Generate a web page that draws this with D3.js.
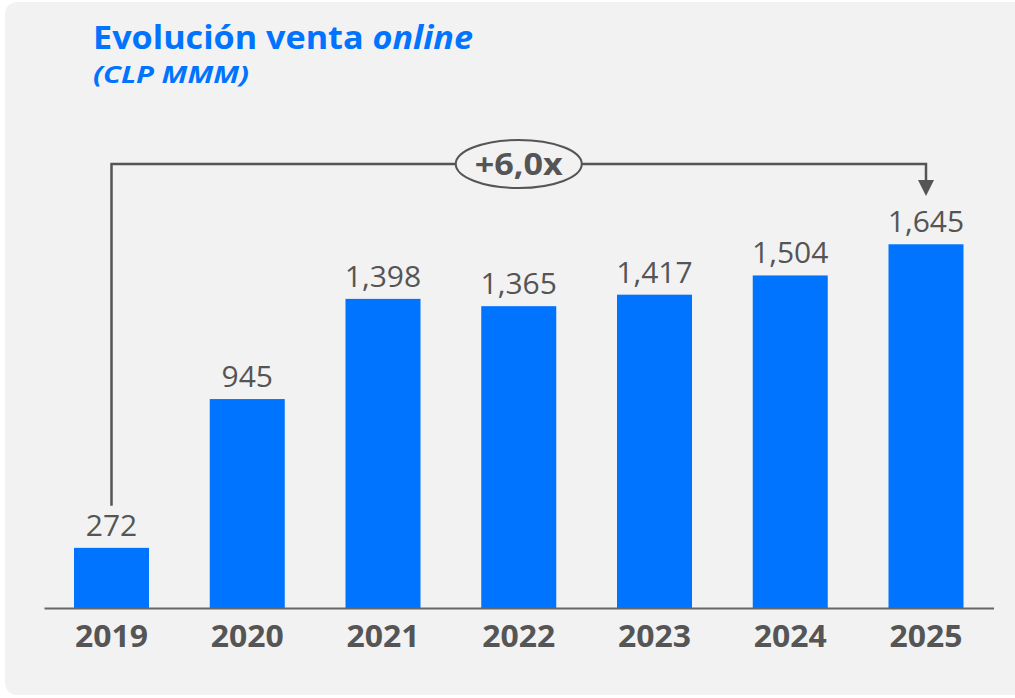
<!DOCTYPE html>
<html>
<head>
<meta charset="utf-8">
<script src="https://cdn.jsdelivr.net/npm/d3@7"></script>
<style>
  body { margin: 0; background: #ffffff; }
  svg { display: block; }
</style>
</head>
<body>
<script>
// chart data
const years = ["2019", "2020", "2021", "2022", "2023", "2024", "2025"];
const sales = [272, 945, 1398, 1365, 1417, 1504, 1645];
const growthLabel = "+6,0x";

const width = 1015,
  height = 698;

const blue = "#0073ff",
  grey = "#555555",
  font = "Open Sans, DejaVu Sans, sans-serif";

const svg = d3.select("body").append("svg")
  .attr("width", width)
  .attr("height", height);

// panel background
svg.append("rect")
  .attr("x", 5).attr("y", 2)
  .attr("width", width + 10).attr("height", 693)
  .attr("rx", 12)
  .attr("fill", "#f2f2f2");

// scales
const x = d3.scaleBand()
  .domain(years)
  .range([44, 993.5])
  .paddingInner(0.4475)
  .paddingOuter(0.221);

const y = d3.scaleLinear()
  .domain([0, 1800])
  .range([608, 210]);

// title
const title = svg.append("text")
  .attr("x", 93).attr("y", 49)
  .attr("fill", blue)
  .style("font-family", font)
  .style("font-weight", 700)
  .style("font-size", "32px")
  .attr("textLength", 380)
  .attr("lengthAdjust", "spacingAndGlyphs");
title.append("tspan").text("Evolución venta ");
title.append("tspan").style("font-style", "italic").text("online");

svg.append("text")
  .attr("x", 93).attr("y", 83)
  .attr("fill", blue)
  .style("font-family", font)
  .style("font-weight", 700)
  .style("font-style", "italic")
  .style("font-size", "24px")
  .attr("textLength", 156)
  .attr("lengthAdjust", "spacingAndGlyphs")
  .text("(CLP MMM)");

// bars
svg.selectAll(".bar")
  .data(years)
  .enter()
  .append("rect")
  .attr("class", "bar")
  .attr("x", d => x(d))
  .attr("y", (d, i) => y(sales[i]))
  .attr("width", x.bandwidth())
  .attr("height", (d, i) => y(0) - y(sales[i]))
  .attr("fill", blue);

// value labels
svg.selectAll(".val")
  .data(years)
  .enter()
  .append("text")
  .attr("class", "val")
  .attr("x", d => x(d) + x.bandwidth() / 2)
  .attr("y", (d, i) => y(sales[i]) - 12)
  .attr("text-anchor", "middle")
  .attr("fill", grey)
  .style("font-family", font)
  .style("font-size", "30px")
  .text((d, i) => d3.format(",")(sales[i]));

// x axis
const xAxis = svg.append("g")
  .attr("transform", "translate(0," + y(0) + ")")
  .call(d3.axisBottom(x).tickSize(0).tickPadding(17));
xAxis.select(".domain")
  .attr("stroke", "#666666")
  .attr("stroke-width", 2);
xAxis.selectAll("text")
  .attr("fill", grey)
  .attr("dy", "0.71em")
  .attr("textLength", 73)
  .attr("lengthAdjust", "spacingAndGlyphs")
  .style("font-family", font)
  .style("font-weight", 700)
  .style("font-size", "31px");

// growth bracket
const x0 = x(years[0]) + x.bandwidth() / 2,
  x1 = x(years[years.length - 1]) + x.bandwidth() / 2,
  yTop = 164;

svg.append("path")
  .attr("d", d3.line()([[x0, y(sales[0]) - 42], [x0, yTop], [x1, yTop], [x1, 182]]))
  .attr("fill", "none")
  .attr("stroke", grey)
  .attr("stroke-width", 2.5);

// arrow head
svg.append("path")
  .attr("d", d3.line()([[x1 - 8, 180], [x1 + 8, 180], [x1, 196]]) + "Z")
  .attr("fill", grey);

const mid = (x0 + x1) / 2;
svg.append("ellipse")
  .attr("cx", mid).attr("cy", yTop)
  .attr("rx", 63).attr("ry", 24)
  .attr("fill", "#f2f2f2")
  .attr("stroke", grey)
  .attr("stroke-width", 2);

svg.append("text")
  .attr("x", mid).attr("y", yTop + 11)
  .attr("text-anchor", "middle")
  .attr("fill", grey)
  .attr("textLength", 88)
  .attr("lengthAdjust", "spacingAndGlyphs")
  .style("font-family", font)
  .style("font-weight", 700)
  .style("font-size", "31px")
  .text(growthLabel);
</script>
</body>
</html>
